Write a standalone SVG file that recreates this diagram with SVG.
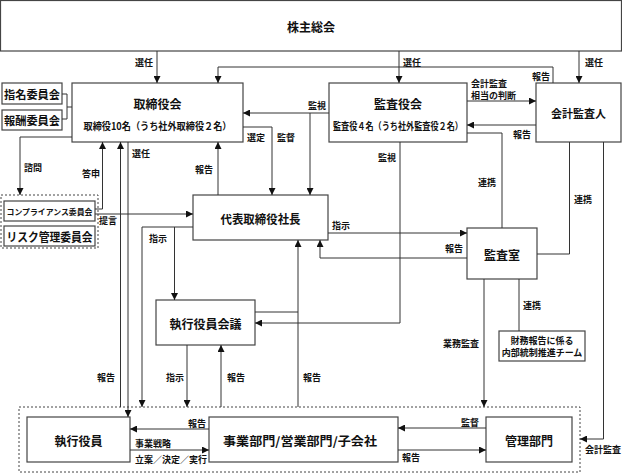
<svg xmlns="http://www.w3.org/2000/svg" width="622" height="473" viewBox="0 0 622 473">
<style>
text{font-family:"Noto Sans CJK JP","Noto Sans",sans-serif;font-weight:bold;fill:#111;text-anchor:middle;dominant-baseline:central}
.box{fill:#fff;stroke:#444;stroke-width:1.2}
.dash{fill:none;stroke:#444;stroke-width:1;stroke-dasharray:2,2}
.t12{font-size:12px}
.t11{font-size:11px}
.t10{font-size:10px}
.lb{font-size:9px}
.st{text-anchor:start}
.c path{fill:none;stroke:#333;stroke-width:1}
.c path.a{marker-end:url(#ah)}
</style>
<defs>
<marker id="ah" viewBox="0 0 7 7" refX="7" refY="3.5" markerWidth="7" markerHeight="7" markerUnits="userSpaceOnUse" orient="auto">
<path d="M0,0 L7,3.5 L0,7 z" fill="#111"/>
</marker>
</defs>
<rect width="622" height="473" fill="#fff"/>

<g id="n-shareholders"><rect class="box" x="0.5" y="0.5" width="621" height="50.5"/><text class="t12" x="311" y="26">株主総会</text></g>
<g id="n-board"><rect class="box" x="72" y="83" width="171" height="59"/><text class="t12" x="157.5" y="103">取締役会</text><text class="t10" x="157.5" y="125" textLength="148" lengthAdjust="spacingAndGlyphs">取締役10名（うち社外取締役２名）</text></g>
<g id="n-nomination"><rect class="box" x="2" y="83" width="60" height="21"/><text class="t11" x="32" y="93.5" textLength="56" lengthAdjust="spacingAndGlyphs">指名委員会</text></g>
<g id="n-compensation"><rect class="box" x="2" y="110" width="60" height="20"/><text class="t11" x="32" y="120" textLength="56" lengthAdjust="spacingAndGlyphs">報酬委員会</text></g>
<g id="n-auditors-board"><rect class="box" x="329" y="83" width="138" height="59"/><text class="t12" x="398" y="103">監査役会</text><text class="t10" x="398" y="125" textLength="130" lengthAdjust="spacingAndGlyphs">監査役４名（うち社外監査役２名）</text></g>
<g id="n-accounting-auditor"><rect class="box" x="536" y="83" width="85" height="59"/><text class="t11" x="578.5" y="113">会計監査人</text></g>
<g id="n-committee-group"><rect class="dash" x="1" y="195" width="97" height="53"/></g>
<g id="n-compliance"><rect class="box" x="4" y="201" width="91" height="20"/><text x="49.5" y="211" style="font-size:8px" textLength="86" lengthAdjust="spacingAndGlyphs">コンプライアンス委員会</text></g>
<g id="n-risk"><rect class="box" x="4" y="226" width="91" height="20"/><text x="49.5" y="236" style="font-size:12px" textLength="86" lengthAdjust="spacingAndGlyphs">リスク管理委員会</text></g>
<g id="n-president"><rect class="box" x="193" y="195" width="135" height="45"/><text class="t12" x="260.5" y="218" textLength="80" lengthAdjust="spacingAndGlyphs">代表取締役社長</text></g>
<g id="n-exec-meeting"><rect class="box" x="156" y="300" width="99" height="45"/><text class="t12" x="205.5" y="323">執行役員会議</text></g>
<g id="n-audit-office"><rect class="box" x="467" y="228" width="70" height="51"/><text class="t12" x="502" y="254">監査室</text></g>
<g id="n-ic-team"><rect class="box" x="499" y="331" width="86" height="30"/><text class="lb" x="542" y="340">財務報告に係る</text><text class="lb" x="542" y="352.5">内部統制推進チーム</text></g>
<g id="n-exec-group"><rect class="dash" x="19" y="407" width="561" height="65"/></g>
<g id="n-exec-officers"><rect class="box" x="27" y="417" width="103" height="45"/><text class="t12" x="78.5" y="440">執行役員</text></g>
<g id="n-business"><rect class="box" x="209" y="417" width="189" height="45"/><text class="t12" x="300" y="440" textLength="154" lengthAdjust="spacingAndGlyphs">事業部門/営業部門/子会社</text></g>
<g id="n-admin"><rect class="box" x="486" y="417" width="86" height="45"/><text class="t12" x="529" y="440">管理部門</text></g>

<g id="connectors" class="c">
<path class="a" d="M157,51 V83"/>
<path class="a" d="M399,51 V83"/>
<path class="a" d="M579,51 V83"/>
<path class="a" d="M553,83 V67 H218 V83"/>
<path class="a" d="M467,101 H536"/>
<path class="a" d="M536,125 H467"/>
<path class="a" d="M329,113 H243"/>
<path class="a" d="M310,113 V195"/>
<path class="a" d="M243,127 H272 V195"/>
<path d="M467,133 H502 V228"/>
<path class="a" d="M400,142 V323 H255"/>
<path d="M537,254 H569.5 V142"/>
<path class="a" d="M603.5,142 V439 H580"/>
<path d="M62,94 H67 V119 H62 M67,107 H72"/>
<path class="a" d="M72,137 H20 V195"/>
<path class="a" d="M95,209 H102.5 V142"/>
<path class="a" d="M95,214 H193"/>
<path class="a" d="M120.5,407 V142"/>
<path class="a" d="M128,142 V417"/>
<path class="a" d="M218,195 V142"/>
<path class="a" d="M193,227 H142 V407"/>
<path class="a" d="M174.5,227 V300"/>
<path class="a" d="M328,233 H467"/>
<path class="a" d="M467,258 H320 V240"/>
<path class="a" d="M298,407 V240"/>
<path d="M255,312 H298"/>
<path class="a" d="M187,345 V407"/>
<path class="a" d="M221,407 V345"/>
<path class="a" d="M484,279 V407"/>
<path d="M519,279 V331"/>
<path class="a" d="M209,429 H130"/>
<path class="a" d="M130,450 H209"/>
<path class="a" d="M486,428 H398"/>
<path class="a" d="M398,450 H486"/>
<g>
<text class="lb" x="144" y="62">選任</text>
<text class="lb" x="412" y="62">選任</text>
<text class="lb" x="594" y="62">選任</text>
<text class="lb" x="541" y="76">報告</text>
<text class="lb st" x="471" y="83">会計監査</text>
<text class="lb st" x="471" y="95">相当の判断</text>
<text class="lb" x="522" y="134">報告</text>
<text class="lb" x="317" y="105">監視</text>
<text class="lb" x="256" y="137">選定</text>
<text class="lb" x="286" y="137">監督</text>
<text class="lb" x="487" y="182">連携</text>
<text class="lb" x="387" y="157">監視</text>
<text class="lb" x="583" y="199">連携</text>
<text class="lb" x="603" y="449">会計監査</text>
<text class="lb" x="33" y="167">諮問</text>
<text class="lb" x="91" y="173">答申</text>
<text class="lb" x="108" y="220">提言</text>
<text class="lb" x="106" y="377">報告</text>
<text class="lb" x="141" y="153">選任</text>
<text class="lb" x="204" y="169">報告</text>
<text class="lb" x="158" y="238">指示</text>
<text class="lb" x="341" y="225">指示</text>
<text class="lb" x="454" y="248">報告</text>
<text class="lb" x="312" y="377">報告</text>
<text class="lb" x="175" y="377">指示</text>
<text class="lb" x="236" y="377">報告</text>
<text class="lb" x="461" y="343">業務監査</text>
<text class="lb" x="532" y="305">連携</text>
<text class="lb" x="197" y="423">報告</text>
<text class="lb st" x="135" y="443">事業戦略</text>
<text class="lb st" x="135" y="459">立案／決定／実行</text>
<text class="lb" x="470" y="422">監督</text>
<text class="lb" x="411" y="457">報告</text>
</g>
</g>
</svg>
